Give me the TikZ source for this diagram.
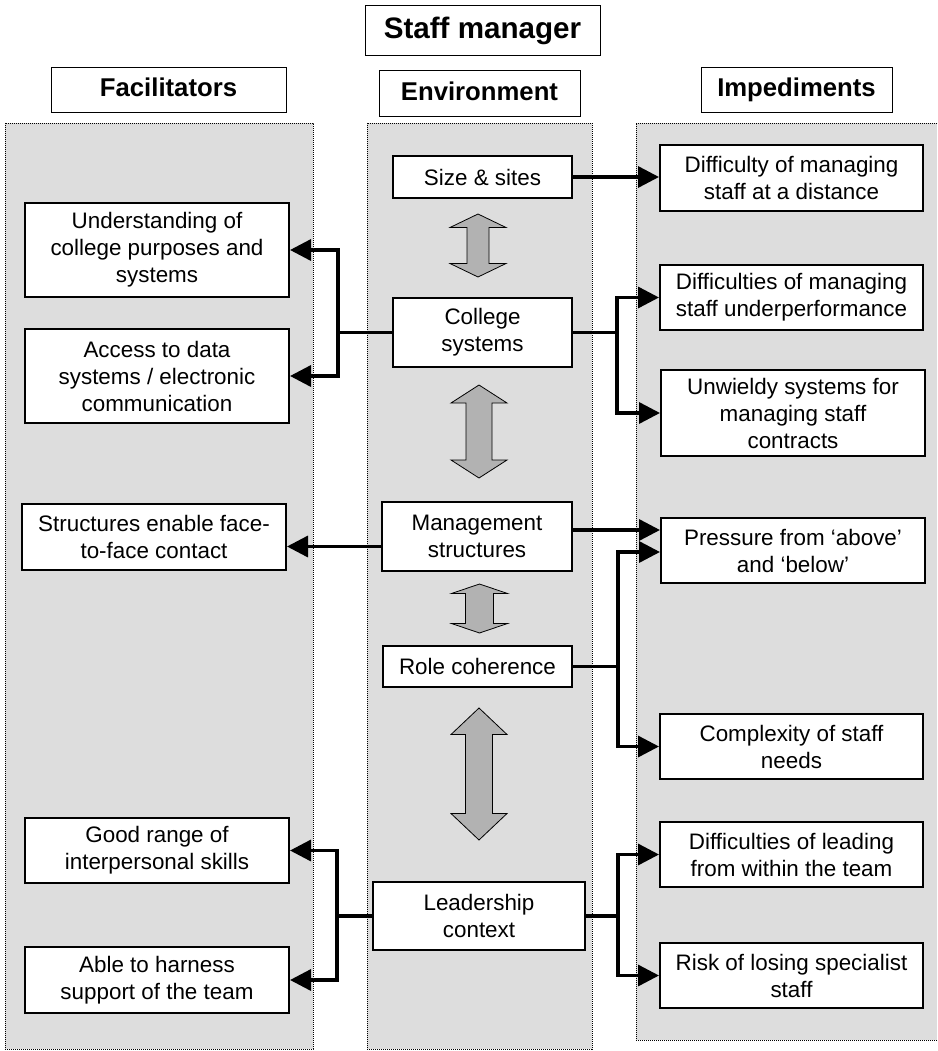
\documentclass[tikz,border=0pt]{standalone}
\usepackage{fontspec}
\setmainfont{Liberation Sans}
\usetikzlibrary{arrows.meta,calc}
\definecolor{panelgray}{RGB}{221,221,221}
\definecolor{arrowgray}{RGB}{178,178,178}
\newcommand\dblarr[6]{%
  \draw[dbl] ({#1},{#2}) -- ({#1+#6},{#2+#4}) -- ({#1+#5},{#2+#4}) -- ({#1+#5},{#3-#4}) -- ({#1+#6},{#3-#4}) -- ({#1},{#3}) -- ({#1-#6},{#3-#4}) -- ({#1-#5},{#3-#4}) -- ({#1-#5},{#2+#4}) -- ({#1-#6},{#2+#4}) -- cycle;}
\begin{document}
\begin{tikzpicture}[x=1pt,y=-1pt,
  panel/.style={draw=black, line width=0.9pt, dash pattern=on 1.2pt off 0.8pt},
  hdr/.style={draw=black, line width=1pt, fill=white, inner sep=0pt, text height=18.4pt, text depth=5.4pt, font=\bfseries\fontsize{25.7}{30}\selectfont},
  box/.style={draw=black, line width=2pt, fill=white, inner sep=0pt, align=center, font=\fontsize{22.4}{27}\selectfont},
  sz/.style 2 args={minimum width=#1pt, minimum height=#2pt},
  conn/.style={line width=3.4pt, draw=black, line join=miter},
  tip/.tip={Triangle[length=21pt,width=21pt]},
  arr/.style={conn, -tip},
  arr2/.style={conn, tip-tip},
  dbl/.style={fill=arrowgray, draw=black, line width=0.8pt, line join=miter}
]
\useasboundingbox (0,0) rectangle (937,1051);
% panels
\fill[panelgray] (5,123) rectangle (313,1049);
\draw[panel] (5,123) rectangle (313,1049);
\fill[panelgray] (367,123) rectangle (592,1049);
\draw[panel] (367,123) rectangle (592,1049);
\fill[panelgray] (636,123) rectangle (937,1040);
\draw[panel] (937,123) -- (636,123) -- (636,1040) -- (937,1040);
% headers
\node[hdr, sz={235}{50}, text height=21.2pt, text depth=6.2pt, font=\bfseries\fontsize{29.6}{34}\selectfont] (staff) at (482.5,31) {Staff manager};
\node[hdr, sz={235}{45}] (fac) at (168.5,90.5) {Facilitators};
\node[hdr, sz={201}{46}] (env) at (479.5,94) {Environment};
\node[hdr, sz={191}{45}] (imp) at (796.5,90.5) {Impediments};
% environment
\node[box, sz={179}{42}] (size) at (482.5,177) {Size \& sites};
\node[box, sz={179}{69}] (college) at (482.5,332.5) {College\\systems};
\node[box, sz={190}{69}] (mgmt) at (477,536.5) {Management\\structures};
\node[box, sz={189}{41}] (role) at (477.5,666.5) {Role coherence};
\node[box, sz={212}{68}] (lead) at (479,916) {Leadership\\context};
% facilitators
\node[box, sz={264}{94}] (und) at (157,250) {Understanding of\\college purposes and\\systems};
\node[box, sz={264}{94}] (acc) at (157,376) {Access to data\\systems / electronic\\communication};
\node[box, sz={264}{66}] (str) at (154,537) {Structures enable face-\\to-face contact};
\node[box, sz={264}{65}] (good) at (157,850.5) {Good range of\\interpersonal skills};
\node[box, sz={264}{66}] (able) at (157,980) {Able to harness\\support of the team};
% impediments
\node[box, sz={263}{66}] (dist) at (791.5,178) {Difficulty of managing\\staff at a distance};
\node[box, sz={263}{65}] (under) at (791.5,297.5) {Difficulties of managing\\staff underperformance};
\node[box, sz={264}{86}] (unw) at (793,413) {Unwieldy systems for\\managing staff\\contracts};
\node[box, sz={264}{65}] (press) at (793,550.5) {Pressure from ‘above’\\and ‘below’};
\node[box, sz={263}{65}] (compl) at (791.5,746.5) {Complexity of staff\\needs};
\node[box, sz={263}{65}] (lead2) at (791.5,854.5) {Difficulties of leading\\from within the team};
\node[box, sz={263}{65}] (risk) at (791.5,975.5) {Risk of losing specialist\\staff};
% double arrows
\dblarr{478}{214}{277}{13.5}{11}{28}
\dblarr{479}{385}{478}{18}{13}{28}
\dblarr{479.5}{584}{633}{9.5}{14}{28}
\dblarr{479}{708}{840}{26.5}{13.5}{28}
% connectors
\draw[arr] (size.east) -- (size.east -| dist.west);
\coordinate (jl1) at ($(college.west)+(-54,0)$);
\draw[conn] (college.west) -- (jl1);
\draw[arr2] (und.east) -| (jl1) |- (acc.east);
\coordinate (jr1) at ($(college.east)+(44,0)$);
\draw[conn] (college.east) -- (jr1);
\draw[arr2] (under.west) -| (jr1) |- (unw.west);
\coordinate (m2) at ([yshift=-10pt]mgmt.west);
\draw[arr] (m2) -- (m2 -| str.east);
\coordinate (m1) at ([yshift=6.5pt]mgmt.east);
\draw[arr] (m1) -- (m1 -| press.west);
\coordinate (pw) at ([yshift=-1.5pt]press.west);
\coordinate (jr3) at ($(role.east)+(45,0)$);
\draw[conn] (role.east) -- (jr3);
\draw[arr2] (pw) -| (jr3) |- (compl.west);
\coordinate (jl2) at ($(lead.west)+(-35,0)$);
\draw[conn] (lead.west) -- (jl2);
\draw[arr2] (good.east) -| (jl2) |- (able.east);
\coordinate (jr4) at ($(lead.east)+(32,0)$);
\draw[conn] (lead.east) -- (jr4);
\draw[arr2] (lead2.west) -| (jr4) |- (risk.west);
\end{tikzpicture}
\end{document}
